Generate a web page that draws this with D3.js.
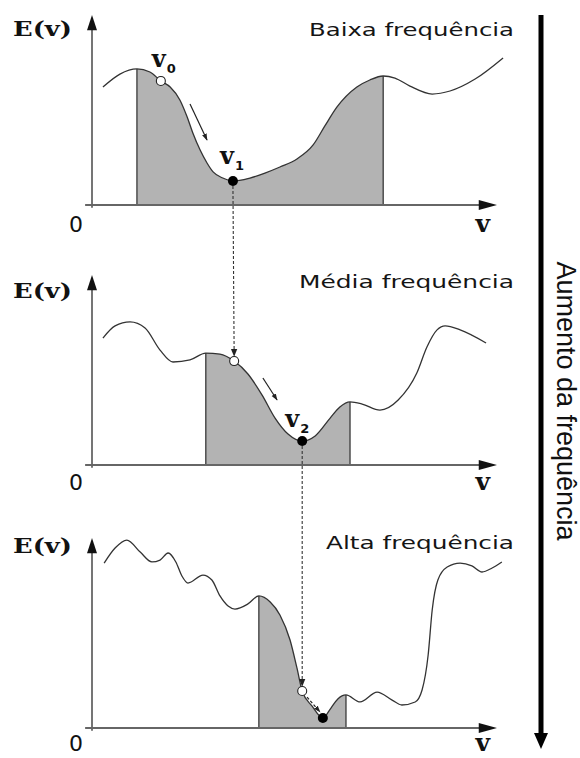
<!DOCTYPE html>
<html><head><meta charset="utf-8">
<script src="https://cdn.jsdelivr.net/npm/d3@7"></script>
<style>body{margin:0;background:#fff}</style>
</head><body><svg id="c" width="580" height="758"></svg>
<script>
// ---------- DATA (v and E in arbitrary units, 0..100) ----------
const baixaV = [2.7, 6.9, 11.1, 14.3, 17.0, 19.3, 21.7, 23.5, 24.9, 26.7, 28.4, 29.9, 32.3, 34.8, 39.0, 42.7, 46.4, 50.6, 54.6, 57.5, 60.5, 65.4, 68.6, 71.9, 74.8, 78.5, 84.0, 88.4, 94.6, 101.5];
const baixaE = [62.1, 68.9, 71.6, 70.0, 65.3, 62.1, 55.3, 46.3, 37.9, 28.9, 22.1, 17.4, 14.2, 12.6, 14.2, 16.8, 20.0, 24.2, 31.6, 41.6, 51.6, 62.1, 65.8, 67.9, 66.8, 62.6, 58.4, 60.0, 66.3, 77.4];

const mediaV = [2.7, 5.7, 9.4, 13.1, 16.8, 20.0, 24.2, 28.1, 31.6, 35.1, 38.5, 42.0, 45.2, 48.4, 51.9, 55.1, 58.8, 61.2, 63.7, 66.7, 71.1, 75.6, 80.2, 82.7, 85.2, 87.2, 90.9, 97.3];
const mediaE = [66.8, 73.2, 75.3, 72.1, 60.5, 54.2, 55.3, 58.9, 58.4, 54.7, 47.9, 36.8, 24.7, 16.3, 12.6, 15.3, 24.7, 30.5, 33.2, 32.1, 28.9, 34.2, 48.4, 62.1, 71.1, 73.2, 71.1, 64.2];

const altaV = [3.0, 5.7, 8.6, 11.9, 14.8, 16.8, 18.8, 20.7, 22.2, 23.7, 27.4, 29.6, 31.6, 33.6, 35.3, 38.5, 41.2, 44.0, 46.4, 48.9, 50.6, 51.9, 54.3, 57.0, 59.0, 60.7, 62.7, 66.2, 70.4, 74.1, 76.5, 79.8, 81.5, 83.0, 84.0, 85.4, 87.7, 90.9, 93.8, 96.3, 98.8, 101.2];
const altaE = [86.8, 94.7, 98.9, 92.6, 87.4, 88.4, 92.1, 87.4, 80.0, 76.3, 80.5, 77.9, 69.5, 64.2, 62.6, 65.3, 69.5, 66.3, 59.5, 46.3, 31.6, 19.5, 11.6, 5.3, 10.5, 15.3, 17.4, 13.7, 18.9, 14.7, 12.1, 13.7, 20.0, 38.4, 62.1, 77.9, 84.7, 86.8, 85.3, 82.1, 84.2, 87.4];

const titles = ["Baixa frequência", "Média frequência", "Alta frequência"];
const basinLeftV  = [11.1, 28.1, 41.2];
const basinRightV = [71.9, 63.7, 62.7];
const startV = [17.0, 35.1, 51.9];   // open circles
const startE = [65.3, 54.7, 19.5];
const minV   = [34.8, 51.9, 57.0];   // filled circles
const minE   = [12.6, 12.6, 5.3];
const stepFromV = [24.2, 42.2, 53.1];
const stepFromE = [53.2, 45.8, 16.3];
const stepToV   = [28.4, 45.7, 56.3];
const stepToE   = [34.2, 34.2, 8.4];
const pointSubs = ["0", "1", "2"];
const sideLabel = "Aumento da frequência";

// ---------- LAYOUT ----------
const layout = [
  {axisY: 205, ev: 36,  title: 36,  titleLen: 205, lab: 27},
  {axisY: 465, ev: 298, title: 288, titleLen: 215, lab: 25},
  {axisY: 728, ev: 553, title: 549, titleLen: 188, lab: 23}
];
const series = [[baixaV, baixaE], [mediaV, mediaE], [altaV, altaE]];

const svg = d3.select("#c");
const defs = svg.append("defs");
defs.append("marker").attr("id", "ah").attr("viewBox", "0 0 10 10").attr("refX", 9).attr("refY", 5)
  .attr("markerWidth", 7).attr("markerHeight", 7).attr("orient", "auto").attr("markerUnits", "userSpaceOnUse")
  .append("path").attr("d", "M0,1.5 L10,5 L0,8.5 Z").attr("fill", "#222");
defs.append("marker").attr("id", "ahd").attr("viewBox", "0 0 10 10").attr("refX", 9).attr("refY", 5)
  .attr("markerWidth", 8).attr("markerHeight", 8).attr("orient", "auto").attr("markerUnits", "userSpaceOnUse")
  .append("path").attr("d", "M0,1 L10,5 L0,9 Z").attr("fill", "#222");

const x = d3.scaleLinear().domain([0, 100]).range([92, 497]);
const ys = layout.map(l => d3.scaleLinear().domain([0, 100]).range([l.axisY, l.axisY - 190]));

layout.forEach((l, i) => {
  const y = ys[i];
  const [V, E] = series[i];
  const pts = V.map((v, k) => [v, E[k]]);
  const g = svg.append("g");
  const line = d3.line().x(d => x(d[0])).y(d => y(d[1])).curve(d3.curveMonotoneX);
  const area = d3.area().x(d => x(d[0])).y0(y(0)).y1(d => y(d[1])).curve(d3.curveMonotoneX);

  // shaded basin
  const cid = "clip" + i;
  defs.append("clipPath").attr("id", cid).append("rect")
    .attr("x", x(basinLeftV[i])).attr("y", 0)
    .attr("width", x(basinRightV[i]) - x(basinLeftV[i])).attr("height", 758);
  g.append("path").attr("d", area(pts)).attr("fill", "#b3b3b3").attr("clip-path", `url(#${cid})`);
  [basinLeftV[i], basinRightV[i]].forEach(bv => {
    const be = E[V.indexOf(bv)];
    g.append("line").attr("x1", x(bv)).attr("x2", x(bv)).attr("y1", y(0)).attr("y2", y(be))
      .attr("stroke", "#555").attr("stroke-width", 1.6);
  });

  // axes
  g.append("line").attr("x1", x(-1.7)).attr("x2", x(97)).attr("y1", y(0)).attr("y2", y(0))
    .attr("stroke", "#666").attr("stroke-width", 1.8);
  g.append("path").attr("d", `M${x(100)},${y(0)} L${x(95.5)},${y(0) - 5} L${x(95.5)},${y(0) + 5} Z`).attr("fill", "#111");
  g.append("line").attr("x1", x(0)).attr("x2", x(0)).attr("y1", y(-1.5)).attr("y2", y(93))
    .attr("stroke", "#666").attr("stroke-width", 1.8);
  g.append("path").attr("d", `M${x(0)},${y(100)} L${x(0) - 5},${y(92)} L${x(0) + 5},${y(92)} Z`).attr("fill", "#111");

  // curve
  g.append("path").attr("d", line(pts)).attr("fill", "none").attr("stroke", "#333").attr("stroke-width", 1.3);

  // descent arrow
  g.append("line").attr("x1", x(stepFromV[i])).attr("y1", y(stepFromE[i]))
    .attr("x2", x(stepToV[i])).attr("y2", y(stepToE[i]))
    .attr("stroke", "#222").attr("stroke-width", 1.2)
    .attr("stroke-dasharray", i === 2 ? "3,2" : null)
    .attr("marker-end", "url(#ah)");

  // texts
  g.append("text").attr("x", 13).attr("y", l.ev).text("E(v)")
    .attr("font-family", "DejaVu Serif").attr("font-weight", "bold").attr("font-size", 21)
    .attr("textLength", 59).attr("lengthAdjust", "spacingAndGlyphs").attr("fill", "#111");
  g.append("text").attr("x", 514).attr("y", l.title).text(titles[i])
    .attr("text-anchor", "end").attr("font-family", "DejaVu Sans").attr("font-size", 18)
    .attr("textLength", l.titleLen).attr("lengthAdjust", "spacingAndGlyphs").attr("fill", "#151515");
  g.append("text").attr("x", 69).attr("y", y(0) + l.lab).text("0")
    .attr("font-family", "DejaVu Sans").attr("font-size", 21)
    .attr("textLength", 14).attr("lengthAdjust", "spacingAndGlyphs").attr("fill", "#111");
  g.append("text").attr("x", x(96.5)).attr("y", y(0) + l.lab).text("v")
    .attr("font-family", "DejaVu Serif").attr("font-weight", "bold").attr("font-size", 25)
    .attr("text-anchor", "middle").attr("fill", "#111");
});

// point labels v0, v1, v2
const labelPos = [
  {panel: 0, v: startV[0], e: startE[0], dx: -9, dy: -14},
  {panel: 0, v: minV[0], e: minE[0], dx: -13, dy: -17},
  {panel: 1, v: minV[1], e: minE[1], dx: -17, dy: -14}
];
labelPos.forEach((p, k) => {
  const px = x(p.v) + p.dx, py = ys[p.panel](p.e) + p.dy;
  svg.append("text").attr("x", px).attr("y", py).text("v")
    .attr("font-family", "DejaVu Serif").attr("font-weight", "bold").attr("font-size", 24).attr("fill", "#111");
  svg.append("text").attr("x", px + 15).attr("y", py + 6).text(pointSubs[k])
    .attr("font-family", "DejaVu Sans").attr("font-weight", "bold").attr("font-size", 13).attr("fill", "#111");
});

// dashed connectors between panels
for (let i = 0; i < 2; i++) {
  svg.append("line")
    .attr("x1", x(minV[i])).attr("y1", ys[i](minE[i]) + 5)
    .attr("x2", x(startV[i + 1])).attr("y2", ys[i + 1](startE[i + 1]) - 5)
    .attr("stroke", "#333").attr("stroke-width", 1.1).attr("stroke-dasharray", "3,2")
    .attr("marker-end", "url(#ahd)");
}

// markers
layout.forEach((l, i) => {
  const y = ys[i];
  svg.append("circle").attr("cx", x(startV[i])).attr("cy", y(startE[i])).attr("r", 4.5)
    .attr("fill", "#fff").attr("stroke", "#222").attr("stroke-width", 1.1);
  svg.append("circle").attr("cx", x(minV[i])).attr("cy", y(minE[i])).attr("r", 5)
    .attr("fill", "#000");
});

// big side arrow
svg.append("line").attr("x1", 541).attr("x2", 541).attr("y1", 15).attr("y2", 736)
  .attr("stroke", "#000").attr("stroke-width", 5);
svg.append("path").attr("d", "M541,749 L534,733 L548,733 Z").attr("fill", "#000");
svg.append("text").attr("transform", "translate(557,401) rotate(90)").attr("text-anchor", "middle")
  .attr("font-family", "Liberation Sans").attr("font-size", 27).attr("fill", "#111").text(sideLabel);
</script></body></html>
